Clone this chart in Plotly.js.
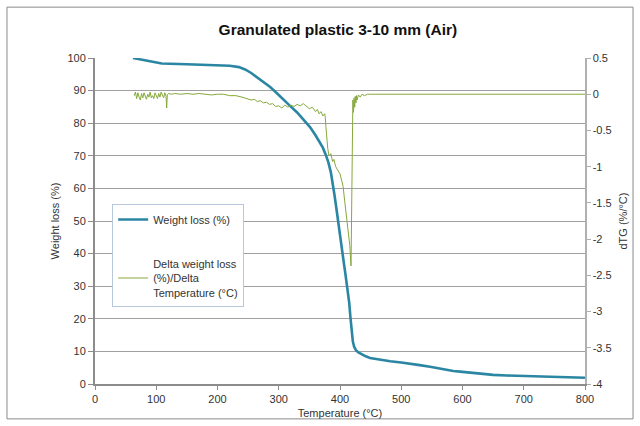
<!DOCTYPE html>
<html>
<head>
<meta charset="utf-8">
<script src="https://cdn.plot.ly/plotly-3.0.1.min.js"></script>
<style>html,body{margin:0;padding:0;background:#fff;}#chart{width:640px;height:426px;}</style>
</head>
<body>
<div id="chart"></div>
<script>
// Weight loss (%) vs temperature (°C)
var tempWeight = [62,70,80,95,109,150,190,220,235,245,255,264,275,286,297,307,318,330,341,351,360,367,372,377,381,385,388,391,394,397,400,403,406,409,412,415,417,419,421,423,426,430,436,442,449,460,470,482,500,514,530,547,560,574,585,596,615,634,650,672,700,727,765,800];
var weightLoss = [100,99.7,99.2,98.6,98.3,98.1,97.9,97.6,97.2,96.5,95.4,94.2,92.7,91.1,89.2,87.3,85.4,83.3,81.1,78.8,76.3,74.3,72.5,70.2,68,65,62,58,54,49.5,45.5,41.5,37.5,33.5,29.5,25,20.5,16,13,11.5,10.4,9.7,9.0,8.5,8.0,7.6,7.3,7.0,6.6,6.3,5.8,5.3,4.8,4.3,4.0,3.8,3.4,3.0,2.8,2.6,2.4,2.2,1.95,1.9];

// dTG (%/°C) vs temperature (°C)
var tempDtg = [64,66,68,70,72,74,76,78,80,82,84,86,88,90,92,94,96,98,100,102,104,106,108,110,112,114,116,117,118,120,125,130,140,150,160,170,180,190,200,210,220,230,240,250,255,260,265,270,275,280,285,290,295,300,305,310,315,320,325,330,335,340,345,350,355,360,363,366,369,372,375,376,377,378,380,382,385,388,390,393,396,400,403,405,408,411,413,416,418,419,420,421,422,423,424,425,426,427,428,430,433,436,440,445,450,470,500,530,560,600,640,680,720,760,800];
var dtg = [-0.02,0.03,-0.06,0.02,-0.04,-0.08,0.01,-0.05,0.02,-0.03,-0.07,0.0,-0.04,0.03,-0.05,-0.02,-0.06,0.02,-0.03,-0.06,0.01,-0.04,0.03,-0.02,-0.05,0.02,-0.03,-0.19,-0.01,0.01,0.0,0.01,0.0,0.01,0.0,0.01,0.0,-0.01,0.0,0.0,-0.02,-0.02,-0.04,-0.06,-0.08,-0.07,-0.1,-0.09,-0.12,-0.11,-0.14,-0.13,-0.17,-0.16,-0.19,-0.15,-0.18,-0.15,-0.17,-0.14,-0.16,-0.13,-0.17,-0.2,-0.18,-0.24,-0.21,-0.27,-0.24,-0.3,-0.27,-0.32,-0.45,-0.62,-0.75,-0.85,-0.82,-0.93,-0.9,-1.0,-1.04,-1.1,-1.2,-1.27,-1.5,-1.73,-1.9,-2.09,-2.37,-1.5,-0.4,-0.08,-0.25,-0.05,-0.18,-0.03,-0.12,-0.02,-0.08,-0.01,-0.04,0.0,-0.02,0.0,0.0,0.0,0.0,0.0,0.0,0.0,0.0,0.0,0.0,0.0,0.0];

var rightTickVals = [0.5, 0, -0.5, -1, -1.5, -2, -2.5, -3, -3.5, -4];
var rightTickText = ["0.5", "0", "-0.5", "-1", "-1.5", "-2", "-2.5", "-3", "-3.5", "-4"];

var traces = [
  {x: tempWeight, y: weightLoss, type: 'scatter', mode: 'lines', name: 'Weight loss (%)',
   line: {color: '#2a86a3', width: 2.6}, legendgroup: 'a'},
  {x: tempDtg, y: dtg, type: 'scatter', mode: 'lines', name: 'Delta weight loss<br>(%)/Delta<br>Temperature (°C)',
   line: {color: '#86a83c', width: 1}, yaxis: 'y2', legendgroup: 'b'}
];

var layout = {
  width: 640, height: 426,
  margin: {l: 95, r: 55, t: 58, b: 42},
  paper_bgcolor: '#fff', plot_bgcolor: '#fff',
  font: {family: 'Liberation Sans, Arial, sans-serif', size: 11, color: '#333'},
  title: {text: '<b>Granulated plastic 3-10 mm (Air)</b>', x: 0.528, xanchor: 'center', y: 0.93, yanchor: 'middle',
          font: {size: 15.5, color: '#111'}},
  showlegend: true,
  legend: {x: 0.035, y: 0.552, xanchor: 'left', yanchor: 'top', bgcolor: '#fff',
           bordercolor: '#b8c8dc', borderwidth: 1, itemwidth: 30, traceorder: 'grouped', tracegroupgap: 26,
           font: {size: 11, color: '#333'}},
  xaxis: {range: [0, 800], dtick: 100, tick0: 0, showgrid: false, zeroline: false,
          showline: true, linecolor: '#8c8c8c', linewidth: 1.5, ticks: 'outside', ticklen: 4, tickcolor: '#8c8c8c',
          title: {text: 'Temperature (°C)', standoff: 5, font: {size: 11}}},
  yaxis: {range: [0, 100], dtick: 10, tick0: 0, showgrid: true, gridcolor: '#a0a0a0', gridwidth: 1, zeroline: false,
          showline: true, linecolor: '#8c8c8c', linewidth: 2, ticks: 'outside', ticklen: 5, tickcolor: '#8c8c8c',
          title: {text: 'Weight loss (%)', standoff: 6, font: {size: 11}}},
  yaxis2: {range: [-4, 0.5], overlaying: 'y', side: 'right', tickvals: rightTickVals, ticktext: rightTickText,
           showgrid: false, zeroline: false, showline: true, linecolor: '#b0b0b0', linewidth: 1.5,
           ticks: 'outside', ticklen: 4, tickcolor: '#b0b0b0',
           title: {text: 'dTG (%/°C)', standoff: 8, font: {size: 11}}},
  shapes: [{type: 'rect', xref: 'paper', yref: 'paper', x0: -0.1796, x1: 1.098, y0: -0.107, y1: 1.156,
            line: {color: '#8a8a8a', width: 1}}]
};

Plotly.newPlot('chart', traces, layout, {displayModeBar: false, staticPlot: true});
</script>
</body>
</html>
